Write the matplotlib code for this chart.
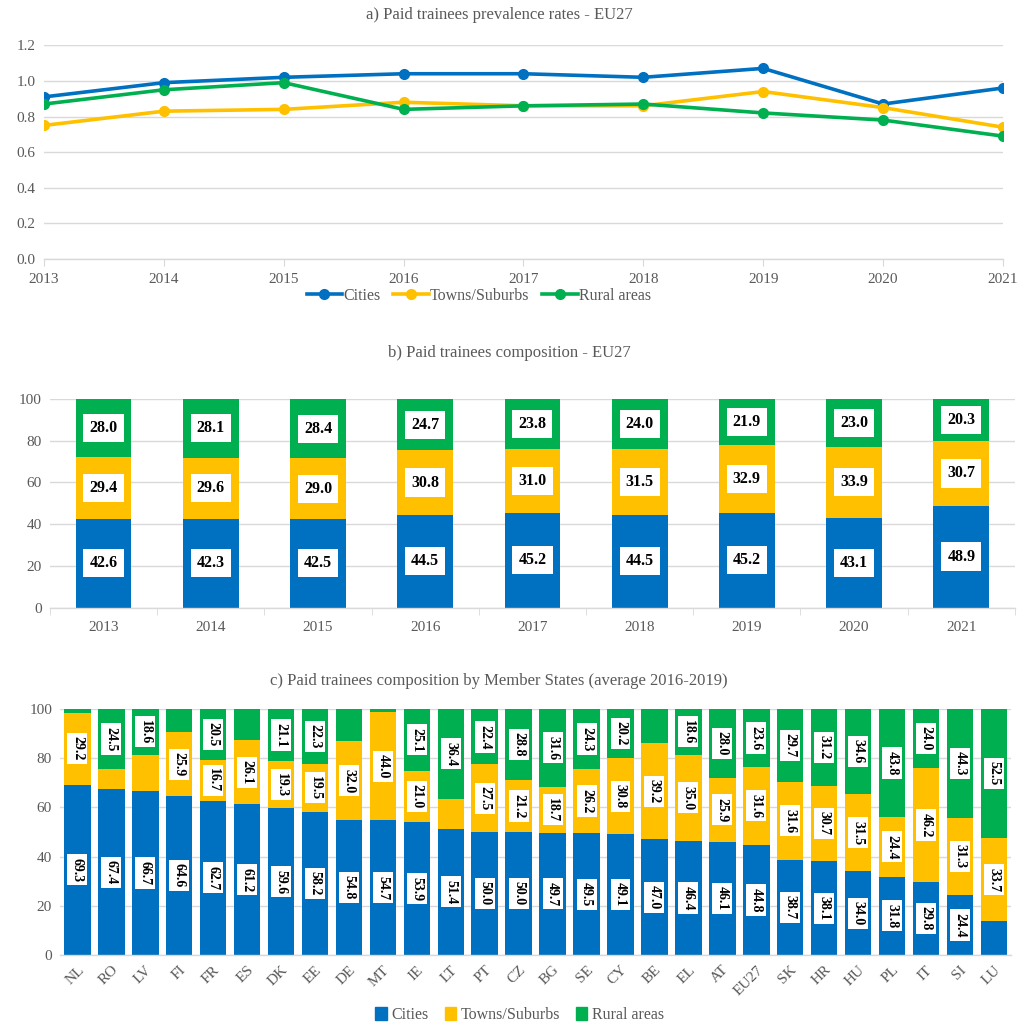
import matplotlib
matplotlib.use("Agg")
import matplotlib.pyplot as plt
from matplotlib.lines import Line2D
from matplotlib.patches import Patch
import numpy as np

plt.rcParams['font.family'] = ['Liberation Serif', 'DejaVu Serif']

# ---------------- data ----------------
years = [2013, 2014, 2015, 2016, 2017, 2018, 2019, 2020, 2021]
rate_cities = [0.91, 0.99, 1.02, 1.04, 1.04, 1.02, 1.07, 0.87, 0.96]
rate_towns = [0.75, 0.83, 0.84, 0.88, 0.86, 0.86, 0.94, 0.85, 0.74]
rate_rural = [0.87, 0.95, 0.99, 0.84, 0.86, 0.87, 0.82, 0.78, 0.69]

comp_cities = [42.6, 42.3, 42.5, 44.5, 45.2, 44.5, 45.2, 43.1, 48.9]
comp_towns = [29.4, 29.6, 29.0, 30.8, 31.0, 31.5, 32.9, 33.9, 30.7]
comp_rural = [28.0, 28.1, 28.4, 24.7, 23.8, 24.0, 21.9, 23.0, 20.3]

countries = ["NL", "RO", "LV", "FI", "FR", "ES", "DK", "EE", "DE", "MT", "IE", "LT", "PT", "CZ",
             "BG", "SE", "CY", "BE", "EL", "AT", "EU27", "SK", "HR", "HU", "PL", "IT", "SI", "LU"]
ms_cities = [69.3, 67.4, 66.7, 64.6, 62.7, 61.2, 59.6, 58.2, 54.8, 54.7, 53.9, 51.4, 50.0, 50.0,
             49.7, 49.5, 49.1, 47.0, 46.4, 46.1, 44.8, 38.7, 38.1, 34.0, 31.8, 29.8, 24.4, 13.8]
ms_towns = [29.2, 8.1, 14.7, 25.9, 16.7, 26.1, 19.3, 19.5, 32.0, 44.0, 21.0, 12.2, 27.5, 21.2,
            18.7, 26.2, 30.8, 39.2, 35.0, 25.9, 31.6, 31.6, 30.7, 31.5, 24.4, 46.2, 31.3, 33.7]
ms_rural = [1.5, 24.5, 18.6, 9.5, 20.5, 12.7, 21.1, 22.3, 13.2, 1.3, 25.1, 36.4, 22.4, 28.8,
            31.6, 24.3, 20.2, 13.8, 18.6, 28.0, 23.6, 29.7, 31.2, 34.6, 43.8, 24.0, 44.3, 52.5]

series_names = ["Cities", "Towns/Suburbs", "Rural areas"]
# --------------------------------------

BLUE = "#0070C0"
YELLOW = "#FFC000"
GREEN = "#00B050"
colors = [BLUE, YELLOW, GREEN]
TXT = "#595959"
GRID = "#d9d9d9"

fig = plt.figure(figsize=(10.19, 10.28), dpi=100)

def style_axes(ax):
    for s in ["top", "right", "left"]:
        ax.spines[s].set_visible(False)
    ax.spines["bottom"].set_color(GRID)
    ax.spines["bottom"].set_linewidth(1.0)
    ax.yaxis.grid(True, color=GRID, linewidth=1.0)
    ax.set_axisbelow(True)
    ax.tick_params(axis="y", length=0, labelcolor=TXT, labelsize=11, pad=6)
    ax.tick_params(axis="x", labelcolor=TXT, labelsize=11, color=GRID)

# ---- panel a ----
axa = fig.add_axes([0.0432, 0.748, 0.9410, 0.208])
for vals, c in zip([rate_cities, rate_towns, rate_rural], colors):
    axa.plot(years, vals, color=c, lw=2.6, marker="o", ms=7, zorder=3)
axa.set_xlim(2013, 2021)
axa.set_ylim(0, 1.2)
axa.set_yticks(np.arange(0, 1.21, 0.2))
axa.set_yticklabels([f"{v:.1f}" for v in np.arange(0, 1.21, 0.2)])
axa.set_xticks(years)
style_axes(axa)
axa.tick_params(axis="x", length=5, pad=5)
fig.text(0.49, 0.985, "a) Paid trainees prevalence rates - EU27", ha="center", va="center",
         fontsize=12, color=TXT)
handles_a = [Line2D([0], [0], color=c, lw=2.6, marker="o", ms=7) for c in colors]
fig.legend(handles_a, series_names, loc="center", bbox_to_anchor=(0.47, 0.712), ncol=3,
           frameon=False, fontsize=11.5, handlelength=2.2, handletextpad=0.1, columnspacing=0.8,
           labelcolor=TXT)

# ---- panel b ----
axb = fig.add_axes([0.049, 0.409, 0.947, 0.203])
xb = np.arange(len(years))
bottom = np.zeros(len(years))
for vals, c in zip([comp_cities, comp_towns, comp_rural], colors):
    vals = np.array(vals)
    axb.bar(xb, vals, bottom=bottom, width=0.52, color=c, zorder=2)
    for xi, b, v in zip(xb, bottom, vals):
        axb.text(xi, b + v / 2, f"{v:.1f}", ha="center", va="center", fontsize=11.5,
                 fontweight="bold", color="black", zorder=4,
                 bbox=dict(boxstyle="square,pad=0.38", fc="white", ec="none"))
    bottom += vals
axb.set_xlim(-0.5, len(years) - 0.5)
axb.set_ylim(0, 100)
axb.set_yticks(range(0, 101, 20))
axb.set_xticks(xb)
axb.set_xticklabels([str(y) for y in years])
axb.set_xticks(np.arange(-0.5, len(years), 1), minor=True)
style_axes(axb)
axb.tick_params(axis="x", which="major", length=0, pad=10)
axb.tick_params(axis="x", which="minor", length=5, color=GRID)
fig.text(0.5, 0.657, "b) Paid trainees composition - EU27", ha="center", va="center",
         fontsize=12, color=TXT)

# ---- panel c ----
axc = fig.add_axes([0.0593, 0.071, 0.9327, 0.2393])
xc = np.arange(len(countries))
bottom = np.zeros(len(countries))
for vals, c in zip([ms_cities, ms_towns, ms_rural], colors):
    vals = np.array(vals)
    axc.bar(xc, vals, bottom=bottom, width=0.78, color=c, zorder=2)
    for xi, b, v in zip(xc, bottom, vals):
        if v >= 15:
            axc.text(xi, b + v / 2, f"{v:.1f}", ha="center", va="center", fontsize=10,
                     fontweight="bold", color="black", rotation=270, zorder=4,
                     bbox=dict(boxstyle="square,pad=0.25", fc="white", ec="none"))
    bottom += vals
axc.set_xlim(-0.5, len(countries) - 0.5)
axc.set_ylim(0, 100)
axc.set_yticks(range(0, 101, 20))
axc.set_xticks(xc)
axc.set_xticklabels(countries, rotation=45, ha="right", rotation_mode="anchor")
style_axes(axc)
axc.tick_params(axis="x", length=0, pad=6)
fig.text(0.49, 0.3375, "c) Paid trainees composition by Member States (average 2016-2019)",
         ha="center", va="center", fontsize=12, color=TXT)
handles_c = [Patch(color=c) for c in colors]
fig.legend(handles_c, series_names, loc="center", bbox_to_anchor=(0.51, 0.0127), ncol=3,
           frameon=False, fontsize=11.5, handlelength=0.7, handleheight=0.9,
           handletextpad=0.3, columnspacing=1.0, labelcolor=TXT)

fig.savefig("out.png", dpi=100)
